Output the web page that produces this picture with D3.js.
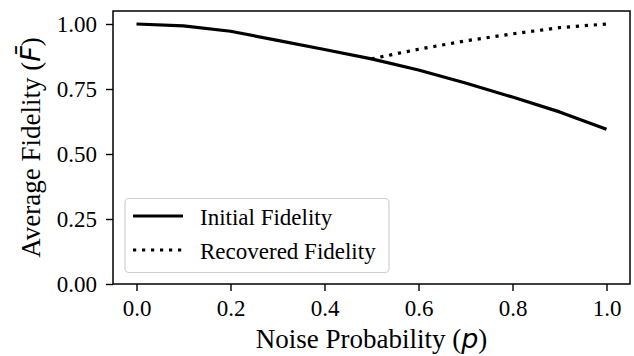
<!DOCTYPE html>
<html><head><meta charset="utf-8">
<script src="https://cdn.jsdelivr.net/npm/d3@7"></script>
<style>body{margin:0;background:#fff}svg{display:block}</style>
</head><body>
<script>
const pInitial = [0.0, 0.1, 0.2, 0.3, 0.4, 0.5, 0.6, 0.7, 0.8, 0.9, 1.0];
const fInitial = [1.0, 0.993, 0.972, 0.937, 0.902, 0.866, 0.823, 0.773, 0.719, 0.662, 0.595];
const pRecovered = [0.5, 0.6, 0.7, 0.8, 0.9, 1.0];
const fRecovered = [0.866, 0.903, 0.935, 0.962, 0.986, 1.0];
const xTicks = [0.0, 0.2, 0.4, 0.6, 0.8, 1.0];
const yTicks = [0.00, 0.25, 0.50, 0.75, 1.00];
const seriesNames = ["Initial Fidelity", "Recovered Fidelity"];

const W = 634, H = 356;
const m = {left: 113, right: 4, top: 11, bottom: 72};
const svg = d3.select("body").append("svg").attr("width", W).attr("height", H);
const x = d3.scaleLinear().domain([-0.05, 1.05]).range([m.left, W - m.right]);
const y = d3.scaleLinear().domain([0, 1.05]).range([H - m.bottom, m.top]);
const serif = "'Liberation Serif', 'Times New Roman', serif";
const tickFont = 23, labelFont = 27, legendFont = 23;

const line = d3.line().x(d => x(d[0])).y(d => y(d[1]));
const initData = pInitial.map((p, i) => [p, fInitial[i]]);
const recData = pRecovered.map((p, i) => [p, fRecovered[i]]);

svg.append("path").datum(initData).attr("d", line).attr("fill", "none")
  .attr("stroke", "#000").attr("stroke-width", 3.2).attr("stroke-linejoin", "round");
svg.append("path").datum(recData).attr("d", line).attr("fill", "none")
  .attr("stroke", "#000").attr("stroke-width", 3.2).attr("stroke-dasharray", "3.2,5.8");

// axes
const xAxis = svg.append("g").attr("transform", `translate(0,${H - m.bottom})`)
  .call(d3.axisBottom(x).tickValues(xTicks).tickFormat(d3.format(".1f")).tickSize(7).tickPadding(8.5));
const yAxis = svg.append("g").attr("transform", `translate(${m.left},0)`)
  .call(d3.axisLeft(y).tickValues(yTicks).tickFormat(d3.format(".2f")).tickSize(7).tickPadding(9));
[xAxis, yAxis].forEach(g => {
  g.select(".domain").remove();
  g.selectAll("line").attr("stroke", "#000").attr("stroke-width", 1.4);
  g.selectAll("text").attr("font-family", serif).attr("font-size", tickFont).attr("fill", "#000");
});

// frame
svg.append("rect").attr("x", m.left).attr("y", m.top)
  .attr("width", W - m.right - m.left).attr("height", H - m.bottom - m.top)
  .attr("fill", "none").attr("stroke", "#000").attr("stroke-width", 1.5);

// axis labels
const xl = svg.append("text").attr("x", (m.left + W - m.right) / 2).attr("y", 348)
  .attr("text-anchor", "middle").attr("font-family", serif).attr("font-size", labelFont).attr("fill", "#000");
xl.append("tspan").text("Noise Probability (");
xl.append("tspan").attr("font-family", "'DejaVu Sans'").attr("font-style", "italic").text("p");
xl.append("tspan").text(")");

const yl = svg.append("text").attr("transform", `translate(40,${(m.top + H - m.bottom) / 2}) rotate(-90)`)
  .attr("text-anchor", "middle").attr("font-family", serif).attr("font-size", labelFont).attr("fill", "#000");
yl.append("tspan").text("Average Fidelity (");
yl.append("tspan").attr("font-family", "'DejaVu Sans'").attr("font-style", "italic").text("F\u0304");
yl.append("tspan").text(")");

// legend
const lg = svg.append("g");
lg.append("rect").attr("x", 125).attr("y", 198.5).attr("width", 264).attr("height", 74)
  .attr("rx", 4).attr("fill", "#fff").attr("fill-opacity", 0.8).attr("stroke", "#d0d0d0").attr("stroke-width", 1.2);
seriesNames.forEach((name, i) => {
  const yy = 216 + i * 34;
  lg.append("line").attr("x1", 133).attr("x2", 183).attr("y1", yy).attr("y2", yy)
    .attr("stroke", "#000").attr("stroke-width", 3.2)
    .attr("stroke-dasharray", i === 1 ? "3.2,5.8" : null);
  lg.append("text").attr("x", 200).attr("y", yy + 8.5).attr("font-family", serif)
    .attr("font-size", legendFont).attr("fill", "#000").text(name);
});
</script>
</body></html>
